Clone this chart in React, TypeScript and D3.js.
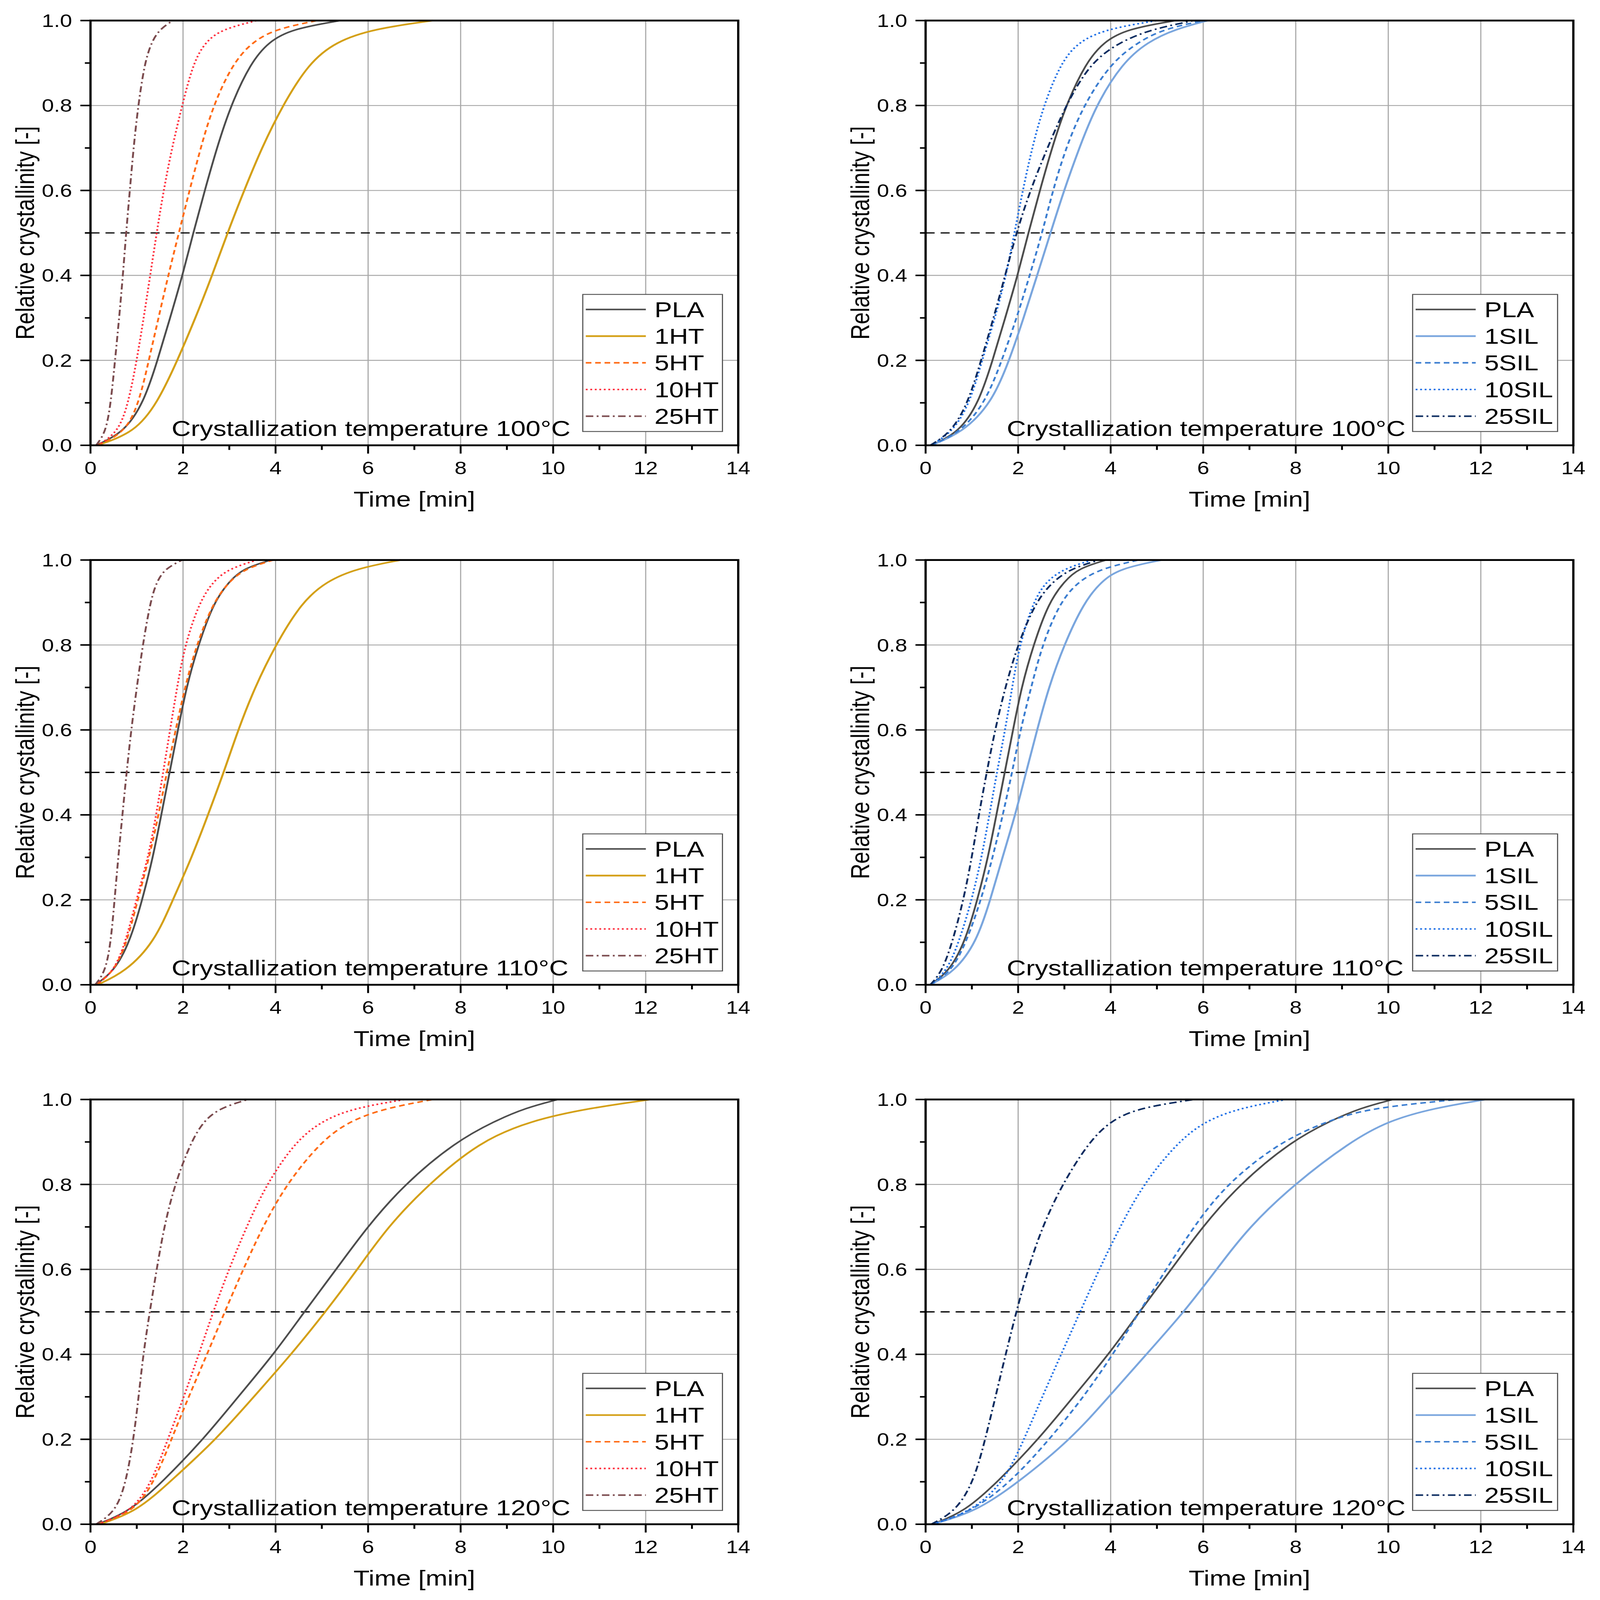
import React from "react";
import * as d3 from "d3";

const levels = [0, 0.03, 0.1, 0.2, 0.3, 0.4, 0.5, 0.6, 0.7, 0.8, 0.9, 0.95, 0.98, 1];

// time [min] to reach each level; neat PLA is the same curve in both panels of a row
const pla100 = [0.12, 0.72, 1.15, 1.45, 1.72, 1.99, 2.22, 2.47, 2.73, 3.03, 3.46, 3.85, 4.35, 5.4];
const pla110 = [0.1, 0.5, 0.85, 1.12, 1.35, 1.53, 1.71, 1.89, 2.07, 2.33, 2.66, 3.0, 3.3, 3.9];
const pla120 = [0.15, 0.85, 1.56, 2.44, 3.19, 3.96, 4.62, 5.31, 5.98, 6.78, 7.88, 8.75, 9.4, 10.1];

// HT series
const ht100_1 = [0.15, 0.95, 1.45, 1.88, 2.27, 2.63, 2.96, 3.32, 3.7, 4.15, 4.72, 5.3, 6.1, 7.4];
const ht100_5 = [0.15, 0.75, 1.05, 1.26, 1.47, 1.68, 1.91, 2.14, 2.38, 2.65, 3.08, 3.5, 4.0, 4.9];
const ht100_10 = [0.15, 0.6, 0.82, 1.0, 1.15, 1.29, 1.43, 1.58, 1.76, 1.98, 2.22, 2.48, 2.85, 3.6];
const ht100_25 = [0.12, 0.33, 0.44, 0.53, 0.62, 0.7, 0.77, 0.85, 0.93, 1.03, 1.17, 1.32, 1.5, 1.78];

const ht110_1 = [0.15, 0.75, 1.38, 1.78, 2.19, 2.54, 2.88, 3.19, 3.55, 4.0, 4.56, 5.1, 5.75, 6.7];
const ht110_5 = [0.12, 0.5, 0.79, 1.02, 1.27, 1.47, 1.65, 1.84, 2.04, 2.29, 2.65, 3.0, 3.35, 3.95];
const ht110_10 = [0.12, 0.5, 0.76, 0.99, 1.25, 1.42, 1.57, 1.72, 1.87, 2.04, 2.35, 2.65, 3.0, 3.6];
const ht110_25 = [0.1, 0.32, 0.44, 0.52, 0.6, 0.69, 0.78, 0.88, 1.0, 1.13, 1.29, 1.43, 1.62, 1.98];

const ht120_1 = [0.2, 1.0, 1.72, 2.72, 3.53, 4.34, 5.08, 5.77, 6.42, 7.3, 8.4, 9.5, 10.8, 12.1];
const ht120_5 = [0.15, 0.95, 1.38, 1.75, 2.12, 2.52, 2.9, 3.3, 3.72, 4.23, 4.97, 5.6, 6.4, 7.4];
const ht120_10 = [0.15, 0.9, 1.33, 1.67, 2.02, 2.34, 2.65, 2.99, 3.37, 3.8, 4.42, 5.0, 5.7, 6.8];
const ht120_25 = [0.12, 0.55, 0.77, 0.93, 1.04, 1.14, 1.28, 1.43, 1.59, 1.82, 2.17, 2.45, 2.8, 3.4];

// SIL series
const sil100_1 = [0.12, 0.8, 1.43, 1.81, 2.12, 2.41, 2.7, 2.99, 3.32, 3.68, 4.25, 4.8, 5.4, 6.1];
const sil100_5 = [0.12, 0.75, 1.29, 1.65, 1.97, 2.25, 2.52, 2.75, 3.03, 3.41, 4.0, 4.6, 5.15, 6.0];
const sil100_10 = [0.1, 0.58, 0.96, 1.22, 1.5, 1.74, 1.92, 2.1, 2.3, 2.55, 2.92, 3.3, 3.9, 5.0];
const sil100_25 = [0.1, 0.55, 0.92, 1.2, 1.47, 1.72, 1.96, 2.26, 2.63, 3.03, 3.55, 4.2, 4.9, 5.8];

const sil110_1 = [0.1, 0.62, 1.1, 1.4, 1.66, 1.94, 2.17, 2.41, 2.66, 2.99, 3.42, 3.8, 4.2, 5.1];
const sil110_5 = [0.1, 0.55, 0.88, 1.2, 1.45, 1.67, 1.87, 2.05, 2.28, 2.52, 2.9, 3.3, 3.8, 4.6];
const sil110_10 = [0.1, 0.45, 0.72, 1.0, 1.21, 1.38, 1.54, 1.72, 1.87, 2.03, 2.32, 2.6, 3.0, 3.6];
const sil110_25 = [0.1, 0.35, 0.58, 0.82, 1.0, 1.15, 1.32, 1.5, 1.72, 1.99, 2.37, 2.75, 3.15, 3.75];

const sil120_1 = [0.15, 1.1, 2.02, 3.14, 3.96, 4.77, 5.59, 6.29, 6.99, 7.96, 9.17, 10.0, 11.0, 12.1];
const sil120_5 = [0.15, 1.0, 1.85, 2.68, 3.42, 4.05, 4.62, 5.2, 5.79, 6.49, 7.65, 8.7, 9.6, 11.5];
const sil120_10 = [0.15, 1.0, 1.7, 2.13, 2.52, 2.93, 3.34, 3.75, 4.2, 4.7, 5.45, 6.05, 6.8, 7.8];
const sil120_25 = [0.12, 0.65, 1.04, 1.29, 1.51, 1.73, 1.96, 2.21, 2.52, 2.95, 3.53, 4.0, 4.6, 5.8];

const htNames = ["PLA", "1HT", "5HT", "10HT", "25HT"];
const silNames = ["PLA", "1SIL", "5SIL", "10SIL", "25SIL"];
const temps = [100, 110, 120];

const timeTicks = [0, 2, 4, 6, 8, 10, 12, 14];
const crystTicks = [0, 0.2, 0.4, 0.6, 0.8, 1.0];

type LineStyle = { color: string; dash?: string; width: number };

const htStyles: LineStyle[] = [
  { color: "#4d4d4d", width: 5 },
  { color: "#d4a017", width: 5.5 },
  { color: "#ff6a13", dash: "15 10", width: 5 },
  { color: "#ff2d3c", dash: "5 7", width: 5 },
  { color: "#7b4b4e", dash: "20 9 5 9", width: 5 },
];
const silStyles: LineStyle[] = [
  { color: "#4d4d4d", width: 5 },
  { color: "#7aa6de", width: 5.5 },
  { color: "#3b7dd0", dash: "15 10", width: 5 },
  { color: "#1e6fe6", dash: "5 7", width: 5 },
  { color: "#0c2c60", dash: "20 9 5 9", width: 5 },
];

const htSeries = [
  [pla100, ht100_1, ht100_5, ht100_10, ht100_25],
  [pla110, ht110_1, ht110_5, ht110_10, ht110_25],
  [pla120, ht120_1, ht120_5, ht120_10, ht120_25],
];
const silSeries = [
  [pla100, sil100_1, sil100_5, sil100_10, sil100_25],
  [pla110, sil110_1, sil110_5, sil110_10, sil110_25],
  [pla120, sil120_1, sil120_5, sil120_10, sil120_25],
];

const W = 4261;
const H = 5217;
const colX = [241, 2465];
const rowY = [67, 1826, 3585];
const pw = 1725;
const ph = 1385;
const font = "Arial, 'Liberation Sans', sans-serif";

type PanelProps = {
  x0: number;
  y0: number;
  names: string[];
  styles: LineStyle[];
  series: number[][];
  temp: number;
  legendW: number;
};

const Panel = ({ x0, y0, names, styles, series, temp, legendW }: PanelProps) => {
  const x = d3.scaleLinear().domain([0, 14]).range([x0, x0 + pw]);
  const y = d3.scaleLinear().domain([0, 1]).range([y0 + ph, y0]);

  const line = d3
    .line<[number, number]>()
    .x((d) => x(d[0]))
    .y((d) => y(d[1]))
    .curve(d3.curveBasis);

  const minorX = d3.range(1, 14, 2);
  const minorY = d3.range(0.1, 1, 0.2);

  const lgLeft = x0 + pw - 42 - legendW;
  const lgTop = y0 + 893;

  return (
    <g>
      {/* grid */}
      {timeTicks.slice(1, -1).map((t) => (
        <line key={"gx" + t} x1={x(t)} x2={x(t)} y1={y0} y2={y0 + ph} stroke="#a8a8a8" strokeWidth={3} />
      ))}
      {crystTicks.slice(1, -1).map((c) => (
        <line key={"gy" + c} x1={x0} x2={x0 + pw} y1={y(c)} y2={y(c)} stroke="#a8a8a8" strokeWidth={3} />
      ))}
      {/* half crystallinity */}
      <line x1={x0} x2={x0 + pw} y1={y(0.5)} y2={y(0.5)} stroke="#000" strokeWidth={4} strokeDasharray="24 16" />

      {series.map((ts, i) => (
        <path
          key={names[i]}
          d={line(ts.map((t, j) => [t, levels[j]] as [number, number])) || ""}
          fill="none"
          stroke={styles[i].color}
          strokeWidth={styles[i].width}
          strokeDasharray={styles[i].dash}
        />
      ))}

      {/* frame */}
      <rect x={x0} y={y0} width={pw} height={ph} fill="none" stroke="#000" strokeWidth={6} />

      {/* ticks */}
      {timeTicks.map((t) => (
        <g key={"tx" + t}>
          <line x1={x(t)} x2={x(t)} y1={y0 + ph} y2={y0 + ph + 27} stroke="#000" strokeWidth={5} />
          <text x={x(t)} y={y0 + ph + 94} textAnchor="middle" fontSize={58} fontFamily={font}>
            {t}
          </text>
        </g>
      ))}
      {minorX.map((t) => (
        <line key={"mx" + t} x1={x(t)} x2={x(t)} y1={y0 + ph} y2={y0 + ph + 15} stroke="#000" strokeWidth={5} />
      ))}
      {crystTicks.map((c) => (
        <g key={"ty" + c}>
          <line x1={x0 - 27} x2={x0} y1={y(c)} y2={y(c)} stroke="#000" strokeWidth={5} />
          <text x={x0 - 49} y={y(c)} dy="0.36em" textAnchor="end" fontSize={58} fontFamily={font}>
            {c.toFixed(1)}
          </text>
        </g>
      ))}
      {minorY.map((c) => (
        <line key={"my" + c} x1={x0 - 15} x2={x0} y1={y(c)} y2={y(c)} stroke="#000" strokeWidth={5} />
      ))}

      {/* axis titles */}
      <text x={x0 + pw / 2} y={y0 + ph + 200} textAnchor="middle" fontSize={70} fontFamily={font}>
        Time [min]
      </text>
      <text
        transform={`translate(${x0 - 150}, ${y0 + ph / 2}) rotate(-90)`}
        textAnchor="middle"
        fontSize={70}
        fontFamily={font}
      >
        Relative crystallinity [-]
      </text>

      <text x={x0 + 216} y={y0 + ph - 30} fontSize={71} fontFamily={font}>
        {`Crystallization temperature ${temp}°C`}
      </text>

      {/* legend */}
      <rect x={lgLeft} y={lgTop} width={legendW} height={447} fill="#fff" stroke="#555" strokeWidth={3} />
      {names.map((n, i) => {
        const cy = lgTop + 49 + i * 87;
        return (
          <g key={"lg" + n}>
            <line
              x1={lgLeft + 8}
              x2={lgLeft + 168}
              y1={cy}
              y2={cy}
              stroke={styles[i].color}
              strokeWidth={styles[i].width}
              strokeDasharray={styles[i].dash}
            />
            <text x={lgLeft + 191} y={cy + 25} fontSize={70} fontFamily={font}>
              {n}
            </text>
          </g>
        );
      })}
    </g>
  );
};

const App = () => {
  // the svg fills the window; the viewBox keeps the 4261x5217 layout
  return (
    <svg
      viewBox={`0 0 ${W} ${H}`}
      preserveAspectRatio="none"
      style={{ position: "fixed", left: 0, top: 0, width: "100vw", height: "100vh", background: "#fff" }}
    >
      <rect width={W} height={H} fill="#fff" />
      {temps.map((temp, r) => (
        <g key={temp}>
          <Panel
            x0={colX[0]}
            y0={rowY[r]}
            names={htNames}
            styles={htStyles}
            series={htSeries[r]}
            temp={temp}
            legendW={372}
          />
          <Panel
            x0={colX[1]}
            y0={rowY[r]}
            names={silNames}
            styles={silStyles}
            series={silSeries[r]}
            temp={temp}
            legendW={386}
          />
        </g>
      ))}
    </svg>
  );
};

export default App;
